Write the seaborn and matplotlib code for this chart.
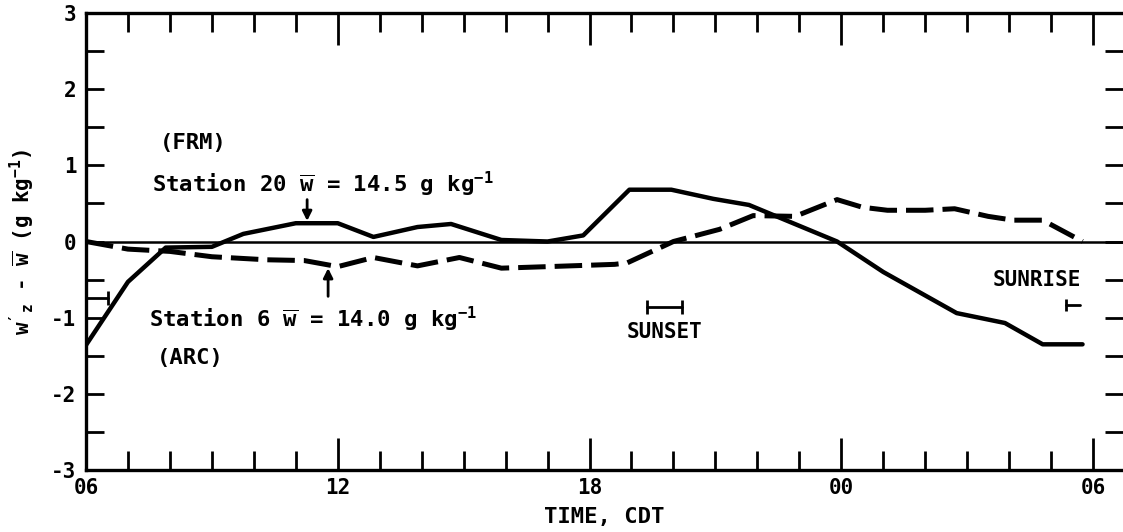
import matplotlib
matplotlib.use("Agg")
import matplotlib.pyplot as plt
import numpy as np
import pandas as pd
import seaborn as sns
from matplotlib.ticker import FixedLocator, MultipleLocator

# Hours after 00 CDT of the first day (06 -> 6, next-day 06 -> 30)
time_stn20 = [6.0, 7.0, 7.9, 9.0, 9.75, 11.0, 12.0, 12.85, 13.9, 14.7, 15.9, 17.0,
              17.85, 18.95, 19.95, 20.95, 21.8, 23.9, 25.0, 26.75, 27.9, 28.8, 29.75]
dev_stn20 = [-1.36, -0.53, -0.08, -0.07, 0.10, 0.24, 0.24, 0.06, 0.19, 0.23, 0.02, 0.0,
             0.08, 0.68, 0.68, 0.56, 0.48, 0.0, -0.40, -0.94, -1.07, -1.35, -1.35]

time_stn6 = [6.0, 7.0, 8.0, 9.0, 10.3, 11.2, 12.0, 12.85, 13.9, 14.9, 15.9, 17.0, 18.6,
             18.9, 20.0, 21.1, 21.9, 22.9, 23.9, 24.5, 25.1, 26.0, 26.7, 27.5, 28.1,
             28.8, 29.75]
dev_stn6 = [0.0, -0.10, -0.13, -0.20, -0.24, -0.25, -0.33, -0.21, -0.32, -0.21, -0.35,
            -0.33, -0.30, -0.28, 0.0, 0.16, 0.34, 0.33, 0.55, 0.45, 0.41, 0.41, 0.43,
            0.33, 0.28, 0.28, 0.0]

x_major = [6, 12, 18, 24, 30]
x_major_labels = ["06", "12", "18", "00", "06"]
y_major = [-3, -2, -1, 0, 1, 2, 3]

sunset_span = [19.37, 20.2]
sunset_level = -0.86
sunrise_span = [29.35, 29.7]
sunrise_level = -0.84
prev_sunrise_span = [6.0, 6.52]
prev_sunrise_level = -0.74

label_stn20 = r"Station 20 $\overline{w}$ = 14.5 g kg$^{-1}$"
label_stn6 = r"Station 6 $\overline{w}$ = 14.0 g kg$^{-1}$"

sns.set_style("ticks")
plt.rcParams.update({
    "font.family": ["DejaVu Sans Mono"],
    "font.weight": "bold",
    "mathtext.fontset": "custom",
    "mathtext.rm": "DejaVu Sans Mono:bold",
    "mathtext.it": "DejaVu Sans Mono:bold",
    "mathtext.sf": "DejaVu Sans Mono:bold",
    "mathtext.bf": "DejaVu Sans Mono:bold",
    "mathtext.default": "bf",
    "axes.unicode_minus": False,
    "text.color": "black",
    "axes.labelcolor": "black",
    "xtick.color": "black",
    "ytick.color": "black",
    "xtick.labelcolor": "black",
    "ytick.labelcolor": "black",
    "axes.labelweight": "bold",
})

W, H = 1123, 532
fig = plt.figure(figsize=(W / 100, H / 100), dpi=100)
left_px, right_px, top_px, bottom_px = 86, 1123, 13, 470
ax = fig.add_axes([left_px / W, 1 - bottom_px / H,
                   (right_px - left_px) / W, (bottom_px - top_px) / H])

df20 = pd.DataFrame({"hour": time_stn20, "dev": dev_stn20})
df6 = pd.DataFrame({"hour": time_stn6, "dev": dev_stn6})

ax.axhline(0, color="black", lw=1.8, zorder=1)
sns.lineplot(data=df20, x="hour", y="dev", ax=ax, color="black", lw=3.2,
             estimator=None, sort=False, zorder=3)
sns.lineplot(data=df6, x="hour", y="dev", ax=ax, color="black", lw=3.6,
             estimator=None, sort=False, zorder=2)
ax.lines[-1].set_dashes([5.5, 1.8])

px_per_hour = 41.96
ax.set_xlim(6, 6 + (right_px - left_px) / px_per_hour)
ax.set_ylim(-3, 3)

ax.xaxis.set_major_locator(FixedLocator(x_major))
ax.set_xticklabels(x_major_labels)
ax.xaxis.set_minor_locator(MultipleLocator(1))
ax.yaxis.set_major_locator(FixedLocator(y_major))
ax.yaxis.set_minor_locator(MultipleLocator(0.5))

ax.tick_params(axis="x", which="major", direction="in", length=23, width=2,
               top=True, bottom=True, labelsize=15, pad=6)
ax.tick_params(axis="x", which="minor", direction="in", length=13.5, width=2,
               top=True, bottom=True)
ax.tick_params(axis="y", which="both", direction="in", length=13, width=2,
               left=True, right=True, labelsize=15, pad=7)
for lbl in ax.get_xticklabels() + ax.get_yticklabels():
    lbl.set_fontweight("bold")

for side in ["left", "bottom", "top"]:
    ax.spines[side].set_linewidth(2.4)
    ax.spines[side].set_color("black")
ax.spines["right"].set_visible(False)

ax.set_xlabel("TIME, CDT", fontsize=16, fontweight="bold", color="black")
ax.xaxis.set_label_coords(0.5, -0.08)
ax.set_ylabel(r"$w'_z$ - $\overline{w}$ (g kg$^{-1}$)", fontsize=15,
              fontweight="bold", color="black")
ax.yaxis.set_label_coords(-0.047, 0.5)

# Station labels with arrows to their curves
ax.text(7.76, 1.29, "(FRM)", fontsize=16, ha="left", va="center")
ax.text(7.57, 0.65, label_stn20, fontsize=16, ha="left", va="baseline")
ax.annotate("", xy=(11.27, 0.27), xytext=(11.27, 0.55),
            arrowprops=dict(arrowstyle="-|>", color="black", lw=2,
                            mutation_scale=14, shrinkA=0, shrinkB=0))
ax.text(7.5, -1.12, label_stn6, fontsize=16, ha="left", va="baseline")
ax.text(7.69, -1.53, "(ARC)", fontsize=16, ha="left", va="center")
ax.annotate("", xy=(11.77, -0.35), xytext=(11.77, -0.72),
            arrowprops=dict(arrowstyle="-|>", color="black", lw=2,
                            mutation_scale=14, shrinkA=0, shrinkB=0))

# Sunset / sunrise time ranges
ax.plot(sunset_span, [sunset_level] * 2, color="black", lw=2)
ax.plot(sunset_span, [sunset_level] * 2, ls="none", marker="|", ms=10,
        mew=2, color="black")
ax.text(np.mean(sunset_span), -1.19, "SUNSET", fontsize=15, ha="center", va="center")

ax.plot(sunrise_span, [sunrise_level] * 2, color="black", lw=2)
ax.plot(sunrise_span[:1], [sunrise_level], ls="none", marker="|", ms=9,
        mew=2, color="black")
ax.text(28.66, -0.5, "SUNRISE", fontsize=15, ha="center", va="center")

ax.plot(prev_sunrise_span, [prev_sunrise_level] * 2, color="black", lw=2)
ax.plot(prev_sunrise_span[1:], [prev_sunrise_level], ls="none", marker="|", ms=10,
        mew=2, color="black")

fig.savefig("out.png", dpi=100)
